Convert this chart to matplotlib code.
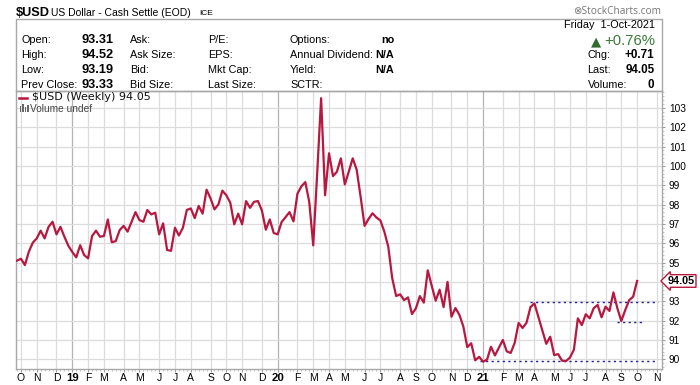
import matplotlib
matplotlib.use("Agg")
import matplotlib.pyplot as plt
import numpy as np
import pandas as pd
from matplotlib.patches import Rectangle
from matplotlib.ticker import FixedLocator, NullFormatter

# ---------------- data ----------------
start_date = "2018-09-28"
end_date = "2021-10-01"
closes = [
    95.10, 95.20, 94.87, 95.56, 96.03, 96.25, 96.65, 96.25, 96.85, 97.11,
    96.46, 96.85, 96.34, 95.87, 95.55, 95.27, 95.90, 95.39, 95.22, 96.37,
    96.65, 96.34, 96.37, 97.23, 96.05, 96.11, 96.68, 96.90, 96.60, 97.11,
    97.61, 97.20, 97.11, 97.72, 97.49, 97.58, 96.46, 97.03, 95.65, 95.61,
    96.80, 96.40, 96.80, 97.72, 97.80, 97.30, 97.93, 97.53, 98.77, 98.32,
    97.75, 98.01, 98.72, 98.48, 98.10, 96.98, 97.53, 96.98, 98.18, 97.83,
    98.14, 98.18, 97.70, 96.70, 97.23, 96.53, 96.46, 97.10, 97.35, 97.61,
    97.13, 98.56, 98.94, 99.16, 98.13, 95.89, 99.60, 103.50, 98.48, 100.65,
    99.47, 99.70, 100.39, 99.04, 99.70, 100.39, 99.80, 98.40, 96.90, 97.25,
    97.55, 97.33, 97.18, 96.60, 95.82, 94.19, 93.27, 93.36, 93.06, 93.20,
    92.34, 92.64, 93.27, 92.93, 94.60, 93.80, 93.03, 93.60, 92.70, 94.00,
    92.20, 92.65, 92.30, 91.70, 90.63, 90.83, 89.95, 90.13, 89.88, 89.98,
    90.65, 90.20, 90.60, 91.00, 90.41, 90.33, 90.85, 91.88, 91.62, 91.89,
    92.70, 92.89, 92.20, 91.53, 90.80, 91.17, 90.22, 90.27, 89.93, 89.91,
    90.09, 90.50, 92.12, 91.77, 92.33, 92.12, 92.64, 92.81, 92.17, 92.72,
    92.50, 93.46, 92.64, 91.98, 92.55, 93.06, 93.24, 94.05,
]
last_value = 94.05
# horizontal dotted support / resistance lines (level, from week, to week)
trend_levels = [92.95, 91.95, 89.90]
trend_from_week = [130.0, 151.8, 117.2]
trend_to_week = [162.4, 158.2, 161.5]
y_ticks = list(range(90, 104))
month_letters = "JFMAMJJASOND"

# header info
left_rows = [("Open:", "93.31", "Ask:", "P/E:", "Options:", "no"),
             ("High:", "94.52", "Ask Size:", "EPS:", "Annual Dividend:", "N/A"),
             ("Low:", "93.19", "Bid:", "Mkt Cap:", "Yield:", "N/A"),
             ("Prev Close:", "93.33", "Bid Size:", "Last Size:", "SCTR:", "")]
right_rows = [("Chg:", "+0.71"), ("Last:", "94.05"), ("Volume:", "0")]

# ---------------- style ----------------
W, H = 700, 385
RED = "#b8173f"
GRID = "#dcdcdc"
YEARGRID = "#b4b4b4"
BORDER = "#a8a8a8"
BLUE = "#2020a0"
SANS = ["Liberation Sans", "DejaVu Sans"]

fig = plt.figure(figsize=(7, 3.85), dpi=100)
fig.patch.set_facecolor("white")


def T(x, y, s, **kw):
    kw.setdefault("family", SANS)
    kw.setdefault("va", "center")
    return fig.text(x / W, 1 - y / H, s, **kw)


ax = fig.add_axes([16 / W, 1 - 369 / H, (662 - 16) / W, (369 - 91) / H])
xs = np.arange(len(closes))
ax.plot(xs, closes, color=RED, lw=1.6, solid_joinstyle="round", zorder=4)
x_right = 163.3
ax.set_xlim(-0.25, x_right)
ax.set_ylim(89.5, 103.87)

# month ticks at first weekly bar of each month
ext_dates = pd.date_range(start_date, "2021-12-31", freq="W-FRI")
month_idx, month_lab, is_year = [], [], []
for i in range(1, len(ext_dates)):
    if ext_dates[i].month != ext_dates[i - 1].month and i <= x_right:
        month_idx.append(i)
        if ext_dates[i].month == 1:
            month_lab.append(ext_dates[i].strftime("%y"))
            is_year.append(True)
        else:
            month_lab.append(month_letters[ext_dates[i].month - 1])
            is_year.append(False)

for i, yr in zip(month_idx, is_year):
    ax.axvline(i, color=YEARGRID if yr else GRID, lw=0.9, zorder=1)
for v in y_ticks:
    ax.axhline(v, color=GRID, lw=0.9, zorder=1)

ax.xaxis.set_major_locator(FixedLocator(month_idx))
ax.set_xticklabels(month_lab)
for lab, yr in zip(ax.get_xticklabels(), is_year):
    lab.set_family(SANS)
    if yr:
        lab.set_fontweight("bold")
        lab.set_fontsize(8.2)
    else:
        lab.set_fontsize(7.5)
ax.xaxis.set_minor_locator(FixedLocator(list(range(0, int(x_right) + 1))))
ax.tick_params(axis="x", which="major", length=2, width=0.6, color="#888888", pad=0.8)
ax.tick_params(axis="x", which="minor", length=1.5, width=0.5, color="#aaaaaa")

ax.yaxis.tick_right()
ax.yaxis.set_major_locator(FixedLocator(y_ticks))
ax.set_yticklabels(["" if v == 94 else str(v) for v in y_ticks])
for lab in ax.get_yticklabels():
    lab.set_family(SANS)
    lab.set_fontsize(7.3)
ax.yaxis.set_minor_locator(FixedLocator(list(np.arange(89.6, 103.9, 0.2))))
ax.yaxis.set_minor_formatter(NullFormatter())
ax.tick_params(axis="y", which="major", length=2.5, width=0.6, color="#888888", pad=2.5, right=True, left=False)
ax.tick_params(axis="y", which="minor", length=1.5, width=0.5, color="#aaaaaa", right=True, left=False)

for s in ax.spines.values():
    s.set_color(BORDER)
    s.set_linewidth(1.0)

# dotted trend lines
for lv, a, b in zip(trend_levels, trend_from_week, trend_to_week):
    ax.plot([a, b], [lv, lv], color=BLUE, lw=1.0, ls=(0, (1.6, 2.4)), zorder=3)

# last price tag
ax.annotate(f"{last_value:.2f}", xy=(1, last_value), xycoords=("axes fraction", "data"),
            xytext=(4.0, 0), textcoords="offset points", ha="left", va="center",
            fontsize=7.8, fontweight="bold", family=SANS, color="black",
            bbox=dict(boxstyle="larrow,pad=0.12", fc="white", ec=RED, lw=1.0),
            annotation_clip=False, zorder=6)

# legend text inside plot
fig.add_artist(plt.Line2D([19 / W, 27 / W], [1 - 97.5 / H, 1 - 97.5 / H], color=RED, lw=1.8))
T(31.5, 97.5, "$USD (Weekly) 94.05", family=["DejaVu Sans"], fontsize=8, color="#111111")
for bx, bh in [(19.5, 6), (22, 8), (24.5, 5), (27, 7)]:
    fig.add_artist(Rectangle((bx / W, 1 - 112 / H), 1.6 / W, bh / H,
                             transform=fig.transFigure, color="#666666", lw=0))
T(29.5, 108.5, "Volume undef", fontsize=7.3, color="#444444")

# ---------------- header ----------------
fig.add_artist(Rectangle((16 / W, 1 - 91 / H), (662 - 16) / W, (91 - 19) / H,
                         transform=fig.transFigure, fill=False, ec=BORDER, lw=1.0))
T(15.5, 13, "$USD", fontsize=9.2, fontweight="bold")
T(51.5, 13, "US Dollar - Cash Settle (EOD)", fontsize=7.5)
T(199, 13.5, "ICE", fontsize=6.0)
T(661.5, 11.5, "\u2297StockCharts.com", fontsize=7.3, color="#777777", ha="right",
  family=["Open Sans", "DejaVu Sans"])

row_y = [40, 55, 70, 84.5]
for (l1, v1, l2, l3, l4, v4), yy in zip(left_rows, row_y):
    T(21, yy, l1, fontsize=7.8)
    T(81.5, yy, v1, fontsize=9.2, fontweight="bold")
    T(130, yy, l2, fontsize=7.8)
    T(208, yy, l3, fontsize=7.8)
    T(290, yy, l4, fontsize=7.8)
    if v4:
        T(394, yy, v4, fontsize=7.8, fontweight="bold", ha="right")

T(654.5, 25, "Friday  1-Oct-2021", fontsize=7.8, ha="right")
T(655, 41, "+0.76%", fontsize=10.7, ha="right", color="#3b7a3b")
T(590.5, 41.5, "\u25B2", fontsize=9.5, ha="left", color="#2f6e2f", family=["DejaVu Sans"])
for (lab, val), yy in zip(right_rows, [55, 70, 84.5]):
    T(587.5, yy, lab, fontsize=7.8)
    T(654.5, yy, val, fontsize=8.4, fontweight="bold", ha="right")

fig.savefig("out.png", dpi=100)
